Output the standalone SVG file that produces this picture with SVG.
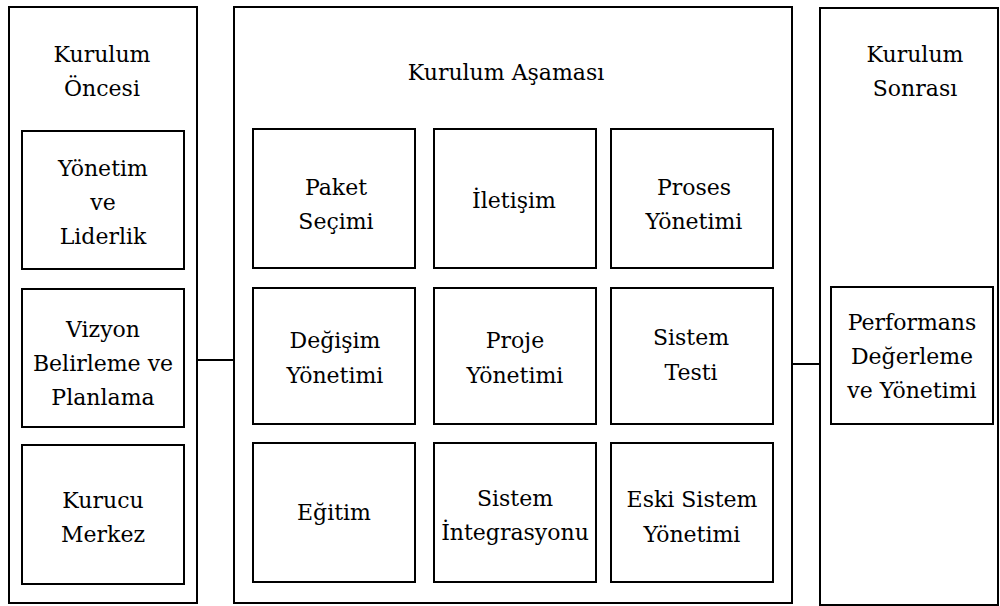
<svg xmlns="http://www.w3.org/2000/svg" width="1000" height="606" viewBox="0 0 1000 606">
<style>
.box{fill:#fff;stroke:#000;stroke-width:2}
.ln{stroke:#000;stroke-width:2;fill:none}
.t{font-family:'DejaVu Serif',serif;font-size:22px;fill:#000;text-anchor:middle}
</style>
<rect x="0" y="0" width="1000" height="606" fill="#fff"/>
<g id="connectors">
<line class="ln" x1="102" y1="269" x2="102" y2="289"/>
<line class="ln" x1="102" y1="427" x2="102" y2="445"/>
<line class="ln" x1="197" y1="360" x2="234" y2="360"/>
<line class="ln" x1="415" y1="200" x2="434" y2="200"/>
<line class="ln" x1="596" y1="200" x2="611" y2="200"/>
<line class="ln" x1="415" y1="358" x2="434" y2="358"/>
<line class="ln" x1="596" y1="360" x2="611" y2="360"/>
<line class="ln" x1="415" y1="520" x2="434" y2="520"/>
<line class="ln" x1="596" y1="520" x2="611" y2="520"/>
<line class="ln" x1="334" y1="268" x2="334" y2="288"/>
<line class="ln" x1="334" y1="424" x2="334" y2="443"/>
<line class="ln" x1="519" y1="268" x2="519" y2="288"/>
<line class="ln" x1="519" y1="424" x2="519" y2="443"/>
<line class="ln" x1="696" y1="268" x2="696" y2="288"/>
<line class="ln" x1="696" y1="424" x2="696" y2="443"/>
<line class="ln" x1="792" y1="364" x2="820" y2="364"/>
</g>
<g id="oncesi">
<rect class="box" x="9" y="7" width="188" height="596"/>
<text class="t" x="102" y="62">Kurulum</text>
<text class="t" x="102" y="96">Öncesi</text>
</g>
<g id="yonetim">
<rect class="box" x="22" y="131" width="162" height="138"/>
<text class="t" x="103" y="176">Yönetim</text>
<text class="t" x="103" y="210">ve</text>
<text class="t" x="103" y="244">Liderlik</text>
</g>
<g id="vizyon">
<rect class="box" x="22" y="289" width="162" height="138"/>
<text class="t" x="103" y="337">Vizyon</text>
<text class="t" x="103" y="371">Belirleme ve</text>
<text class="t" x="103" y="405">Planlama</text>
</g>
<g id="kurucu">
<rect class="box" x="22" y="445" width="162" height="139"/>
<text class="t" x="103" y="508">Kurucu</text>
<text class="t" x="103" y="542">Merkez</text>
</g>
<g id="asamasi">
<rect class="box" x="234" y="7" width="558" height="596"/>
<text class="t" x="506" y="80">Kurulum Aşaması</text>
</g>
<g id="paket">
<rect class="box" x="253" y="129" width="162" height="139"/>
<text class="t" x="336" y="195">Paket</text>
<text class="t" x="336" y="229">Seçimi</text>
</g>
<g id="iletisim">
<rect class="box" x="434" y="129" width="162" height="139"/>
<text class="t" x="514" y="208">İletişim</text>
</g>
<g id="proses">
<rect class="box" x="611" y="129" width="162" height="139"/>
<text class="t" x="694" y="195">Proses</text>
<text class="t" x="694" y="229">Yönetimi</text>
</g>
<g id="degisim">
<rect class="box" x="253" y="288" width="162" height="136"/>
<text class="t" x="335" y="348">Değişim</text>
<text class="t" x="335" y="383">Yönetimi</text>
</g>
<g id="proje">
<rect class="box" x="434" y="288" width="162" height="136"/>
<text class="t" x="515" y="348">Proje</text>
<text class="t" x="515" y="383">Yönetimi</text>
</g>
<g id="test">
<rect class="box" x="611" y="288" width="162" height="136"/>
<text class="t" x="691" y="345">Sistem</text>
<text class="t" x="691" y="380">Testi</text>
</g>
<g id="egitim">
<rect class="box" x="253" y="443" width="162" height="139"/>
<text class="t" x="334" y="520">Eğitim</text>
</g>
<g id="entegrasyon">
<rect class="box" x="434" y="443" width="162" height="139"/>
<text class="t" x="515" y="506">Sistem</text>
<text class="t" x="515" y="540">İntegrasyonu</text>
</g>
<g id="eski">
<rect class="box" x="611" y="443" width="162" height="139"/>
<text class="t" x="692" y="507">Eski Sistem</text>
<text class="t" x="692" y="542">Yönetimi</text>
</g>
<g id="sonrasi">
<rect class="box" x="820" y="8" width="178" height="597"/>
<text class="t" x="915" y="62">Kurulum</text>
<text class="t" x="915" y="96">Sonrası</text>
</g>
<g id="performans">
<rect class="box" x="831" y="287" width="162" height="137"/>
<text class="t" x="912" y="330">Performans</text>
<text class="t" x="912" y="364">Değerleme</text>
<text class="t" x="912" y="398">ve Yönetimi</text>
</g>
</svg>
